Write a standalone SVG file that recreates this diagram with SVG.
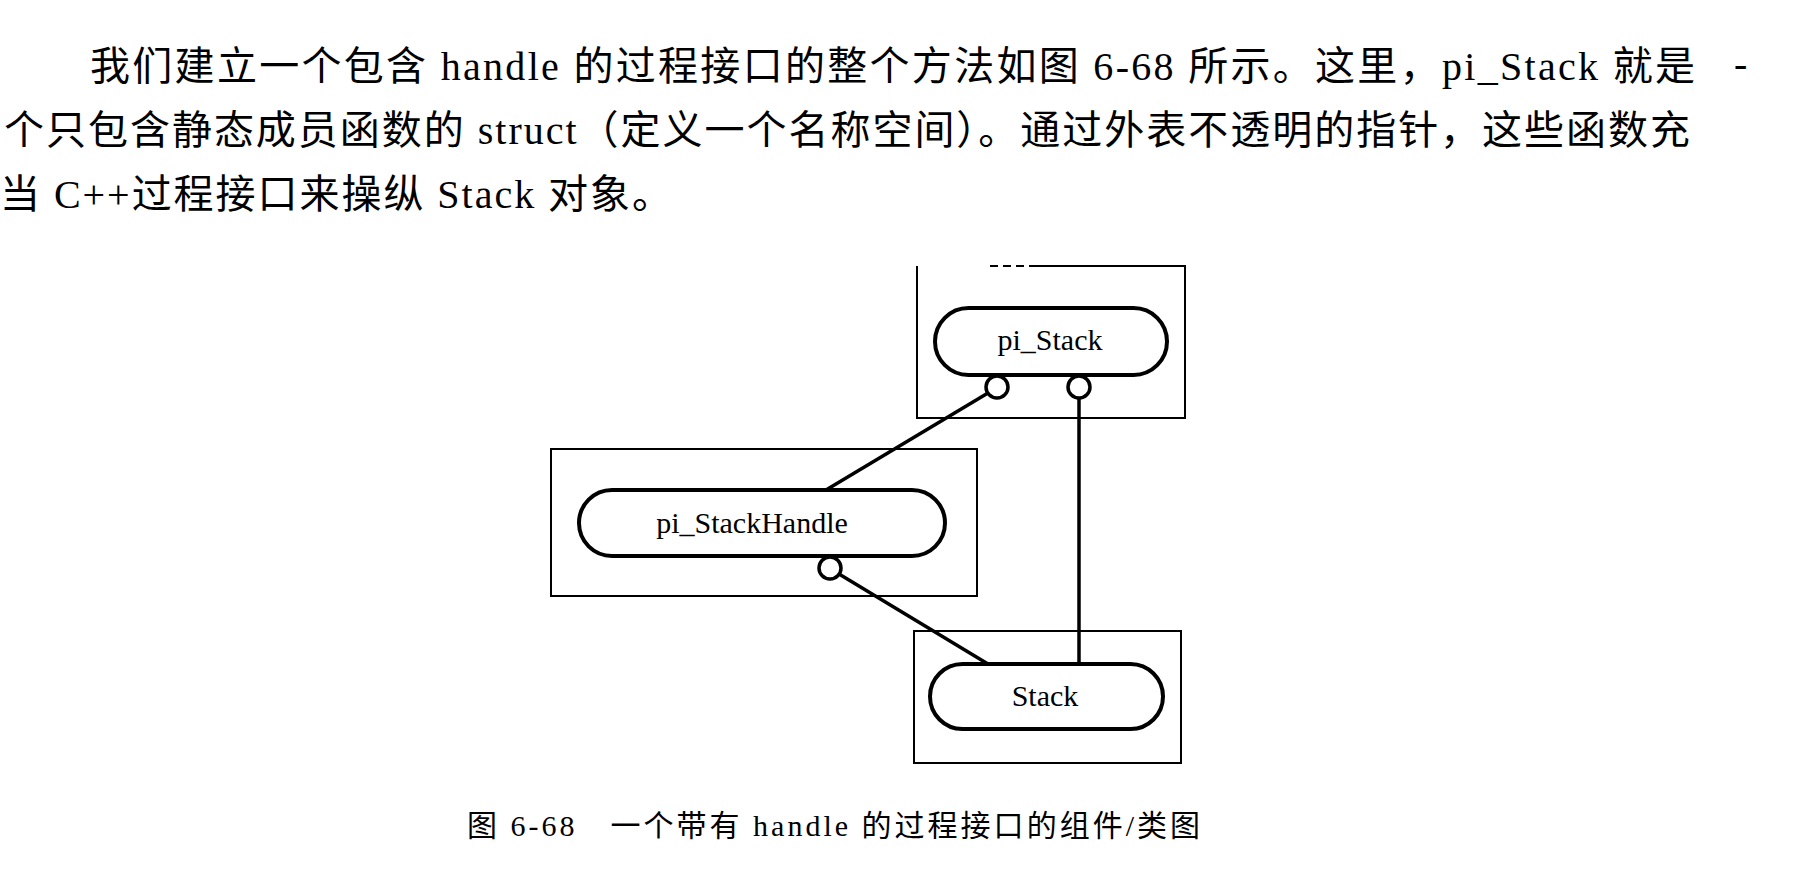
<svg xmlns="http://www.w3.org/2000/svg" width="1802" height="874" viewBox="0 0 1802 874">
<style>
.para{font-family:"Liberation Serif","Noto Sans CJK SC",serif;font-size:40px;fill:#000}
.cap{font-family:"Liberation Serif","Noto Sans CJK SC",serif;font-size:30px;fill:#000}
.box{fill:none;stroke:#000;stroke-width:2}
.pill{fill:#fff;stroke:#000;stroke-width:4}
.lbl{font-family:"Liberation Serif",serif;font-size:30px;fill:#000;text-anchor:middle}
.port{fill:#fff;stroke:#000;stroke-width:3.5}
.conn{stroke:#000;stroke-width:3.5;fill:none}
</style>
<rect width="1802" height="874" fill="#fff"/>
<g id="paragraph">
<text class="para" x="90" y="80" textLength="1605" lengthAdjust="spacing">我们建立一个包含 handle 的过程接口的整个方法如图 6-68 所示。这里，pi_Stack 就是</text>
<text class="para" x="1734" y="77" font-size="24">-</text>
<text class="para" x="4" y="144" textLength="1686" lengthAdjust="spacing">个只包含静态成员函数的 struct（定义一个名称空间）。通过外表不透明的指针，这些函数充</text>
<text class="para" x="0" y="208" textLength="672" lengthAdjust="spacing">当 C++过程接口来操纵 Stack 对象。</text>
</g>
<g id="connectors">
<line class="conn" x1="988" y1="393" x2="826" y2="490"/>
<line class="conn" x1="1079" y1="398" x2="1079" y2="664"/>
<line class="conn" x1="839" y1="574" x2="988" y2="664"/>
</g>
<g id="pi_Stack">
<path class="box" d="M1030,266 H1185 V418 H917 V266"/>
<path class="box" d="M990,266 H1030" stroke-dasharray="8 5"/>
<rect class="pill" x="935" y="308" width="232" height="67" rx="33.5"/>
<text class="lbl" x="1050" y="350">pi_Stack</text>
<circle class="port" cx="997" cy="387" r="11"/>
<circle class="port" cx="1079" cy="387" r="11"/>
</g>
<g id="pi_StackHandle">
<rect class="box" x="551" y="449" width="426" height="147"/>
<rect class="pill" x="579" y="490" width="366" height="66" rx="33"/>
<text class="lbl" x="752" y="533">pi_StackHandle</text>
<circle class="port" cx="830" cy="568" r="11"/>
</g>
<g id="Stack">
<rect class="box" x="914" y="631" width="267" height="132"/>
<rect class="pill" x="930" y="664" width="233" height="65" rx="32.5"/>
<text class="lbl" x="1045" y="706">Stack</text>
</g>
<g id="caption">
<text class="cap" x="467" y="836" textLength="733" lengthAdjust="spacing">图 6-68　一个带有 handle 的过程接口的组件/类图</text>
</g>
</svg>
